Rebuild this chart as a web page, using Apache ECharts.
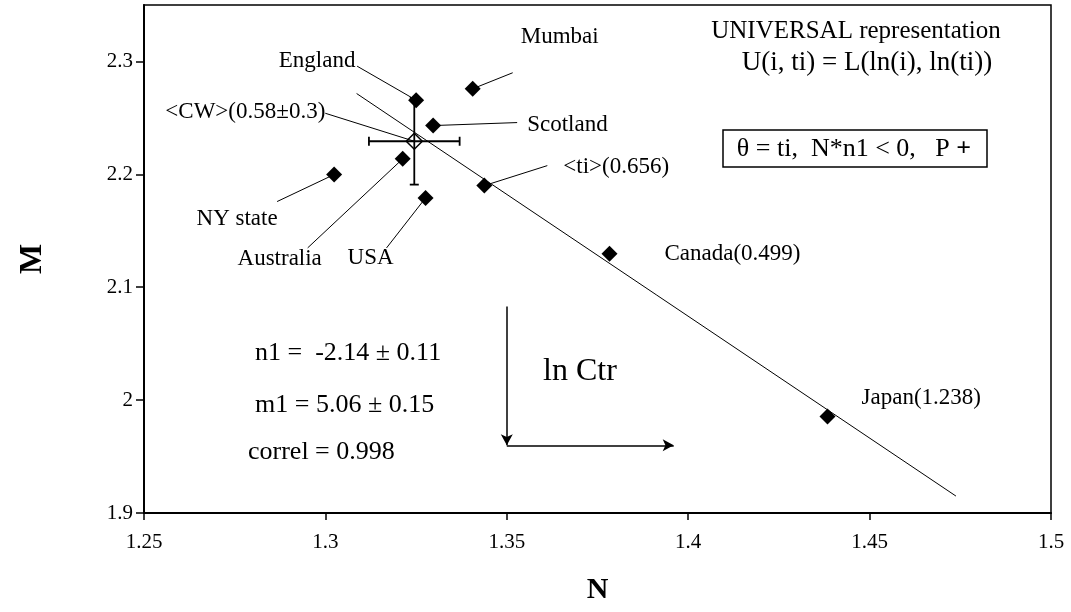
<!DOCTYPE html>
<html>
<head>
<meta charset="utf-8">
<script src="https://cdn.jsdelivr.net/npm/echarts@6/dist/echarts.min.js"></script>
<style>
  html, body { margin: 0; padding: 0; background: #fff; }
  #chart { width: 1071px; height: 612px; }
</style>
</head>
<body>
<div id="chart"></div>
<script>
// Countries / groups and their (N, M) values
const names = ['NY state', 'Australia', 'England', 'USA', 'Scotland', 'Mumbai', '<ti>(0.656)', 'Canada(0.499)', 'Japan(1.238)'];
const nValues = [1.3024, 1.3213, 1.3250, 1.3276, 1.3297, 1.3406, 1.3438, 1.3783, 1.4384];
const mValues = [2.1998, 2.2137, 2.2657, 2.1791, 2.2432, 2.2758, 2.1900, 2.1297, 1.9854];

// Average point with its error bars
const cwName = '<CW>(0.58±0.3)';
const cwN = [1.3245];
const cwM = [2.2293];
const cwErrN = [0.0125];
const cwErrM = [0.0384];

// Fitted straight line (end points)
const fitN = [1.3086, 1.4738];
const fitM = [2.2716, 1.9150];

// Axis ticks
const xTicks = [1.25, 1.3, 1.35, 1.4, 1.45, 1.5];
const yTicks = [1.9, 2.0, 2.1, 2.2, 2.3];

// "ln Ctr" direction arrows (data coordinates)
const arrowN = [1.35, 1.396];
const arrowM = [2.083, 1.96];

// Label placement: pixel offsets from the point for leader end and text
const labelLayout = {
  'NY state':      { lead: [-57, 27],  text: [-97, 44],  align: 'center' },
  'Australia':     { lead: [-95, 89],  text: [-123, 100], align: 'center' },
  'England':       { lead: [-59, -34], text: [-99, -39], align: 'center' },
  'USA':           { lead: [-39, 50],  text: [-55, 60],  align: 'center' },
  'Scotland':      { lead: [84, -3],   text: [94, -1],   align: 'left' },
  'Mumbai':        { lead: [40, -16],  text: [48, -52],  align: 'left' },
  '<ti>(0.656)':   { lead: [63, -20],  text: [79, -19],  align: 'left' },
  'Canada(0.499)': { lead: null,       text: [55, 0],    align: 'left' },
  'Japan(1.238)':  { lead: null,       text: [34, -19],  align: 'left' },
  [cwName]:        { lead: [-89, -28], text: [-89, -29], align: 'right' }
};

const SERIF = '"Liberation Serif", "Times New Roman", serif';

function labelItem(name, p) {
  const lay = labelLayout[name];
  const children = [];
  if (lay.lead) {
    children.push({
      type: 'line',
      shape: { x1: p[0], y1: p[1], x2: p[0] + lay.lead[0], y2: p[1] + lay.lead[1] },
      style: { stroke: '#000', lineWidth: 1 }
    });
  }
  children.push({
    type: 'text',
    x: p[0] + lay.text[0],
    y: p[1] + lay.text[1],
    style: { text: name, font: '23px ' + SERIF, fill: '#000', align: lay.align, verticalAlign: 'middle' }
  });
  return { type: 'group', children };
}

const points = nValues.map((n, i) => [n, mValues[i]]);
const cwData = cwN.map((n, i) => [n, cwM[i], cwErrN[i], cwErrM[i]]);

const chart = echarts.init(document.getElementById('chart'), null, { renderer: 'canvas' });

chart.setOption({
  animation: false,
  backgroundColor: '#fff',
  grid: {
    left: 144, right: 20, top: 5, bottom: 99,
    show: true, borderColor: '#000', borderWidth: 1.5, backgroundColor: 'transparent'
  },
  xAxis: {
    type: 'value', min: xTicks[0], max: xTicks[xTicks.length - 1], interval: 0.05,
    name: 'N', nameLocation: 'middle', nameGap: 62,
    nameTextStyle: { fontFamily: SERIF, fontWeight: 'bold', fontSize: 30, color: '#000' },
    axisLine: { show: true, lineStyle: { color: '#000', width: 2 } },
    axisTick: { show: true, inside: false, length: 7, lineStyle: { color: '#000', width: 1.5 }, customValues: xTicks },
    axisLabel: { fontFamily: SERIF, fontSize: 21, color: '#000', margin: 19, customValues: xTicks,
      formatter: v => String(+v.toFixed(2)) },
    splitLine: { show: false }
  },
  yAxis: {
    type: 'value', min: 1.9, max: 2.35, interval: 0.1,
    name: 'M', nameLocation: 'middle', nameGap: 95, nameRotate: 90,
    nameTextStyle: { fontFamily: SERIF, fontWeight: 'bold', fontSize: 32, color: '#000' },
    axisLine: { show: true, lineStyle: { color: '#000', width: 2 } },
    axisTick: { show: true, inside: false, length: 8, lineStyle: { color: '#000', width: 1.5 }, customValues: yTicks },
    axisLabel: { fontFamily: SERIF, fontSize: 21, color: '#000', margin: 11, customValues: yTicks,
      formatter: v => String(+v.toFixed(2)) },
    splitLine: { show: false }
  },
  series: [
    {
      // fitted line
      type: 'line',
      data: fitN.map((n, i) => [n, fitM[i]]),
      symbol: 'none',
      lineStyle: { color: '#000', width: 1 },
      z: 2, silent: true
    },
    {
      // leader lines and point names
      type: 'custom',
      data: points,
      renderItem: (params, api) => labelItem(names[params.dataIndex], api.coord([api.value(0), api.value(1)])),
      z: 3, silent: true
    },
    {
      // leader line and name of the average point
      type: 'custom',
      data: cwData,
      renderItem: (params, api) => labelItem(cwName, api.coord([api.value(0), api.value(1)])),
      z: 3, silent: true
    },
    {
      // error bars of the average point
      type: 'custom',
      data: cwData,
      renderItem: (params, api) => {
        const n = api.value(0), m = api.value(1), en = api.value(2), em = api.value(3);
        const l = api.coord([n - en, m]), r = api.coord([n + en, m]);
        const t = api.coord([n, m + em]), b = api.coord([n, m - em]);
        const cap = 4.5;
        const st = { stroke: '#000', lineWidth: 1.8 };
        return {
          type: 'group',
          children: [
            { type: 'line', shape: { x1: l[0], y1: l[1], x2: r[0], y2: r[1] }, style: st },
            { type: 'line', shape: { x1: l[0], y1: l[1] - cap, x2: l[0], y2: l[1] + cap }, style: st },
            { type: 'line', shape: { x1: r[0], y1: r[1] - cap, x2: r[0], y2: r[1] + cap }, style: st },
            { type: 'line', shape: { x1: t[0], y1: t[1], x2: b[0], y2: b[1] }, style: st },
            { type: 'line', shape: { x1: t[0] - cap, y1: t[1], x2: t[0] + cap, y2: t[1] }, style: st },
            { type: 'line', shape: { x1: b[0] - cap, y1: b[1], x2: b[0] + cap, y2: b[1] }, style: st }
          ]
        };
      },
      z: 4, silent: true
    },
    {
      // data points
      type: 'scatter',
      data: points,
      symbol: 'diamond',
      symbolSize: 16,
      itemStyle: { color: '#000', opacity: 1 },
      z: 5, silent: true
    },
    {
      // average point (open diamond)
      type: 'scatter',
      data: cwData.map(d => [d[0], d[1]]),
      symbol: 'diamond',
      symbolSize: 16,
      itemStyle: { color: 'rgba(0,0,0,0)', borderColor: '#000', borderWidth: 1.5, opacity: 1 },
      z: 6, silent: true
    },
    {
      // "ln Ctr" arrows
      type: 'line',
      data: [],
      markLine: {
        silent: true,
        symbol: ['none', 'arrow'],
        symbolSize: [9, 11],
        label: { show: false },
        lineStyle: { color: '#000', width: 1.5, type: 'solid' },
        data: [
          [{ coord: [arrowN[0], arrowM[0]] }, { coord: [arrowN[0], arrowM[1]] }],
          [{ coord: [arrowN[0], arrowM[1]] }, { coord: [arrowN[1], arrowM[1]] }]
        ]
      }
    }
  ],
  graphic: [
    { type: 'text', x: 856, y: 31,
      style: { text: 'UNIVERSAL representation', font: '25px ' + SERIF, fill: '#000', align: 'center', verticalAlign: 'middle' } },
    { type: 'text', x: 867, y: 63,
      style: { text: 'U(i, ti) = L(ln(i), ln(ti))', font: '27px ' + SERIF, fill: '#000', align: 'center', verticalAlign: 'middle' } },
    { type: 'rect', shape: { x: 723, y: 130, width: 264, height: 37 },
      style: { fill: 'none', stroke: '#000', lineWidth: 1.5 } },
    { type: 'text', x: 854, y: 149,
      style: { text: 'θ = ti,  N*n1 < 0,   P {b|+}', font: '26px ' + SERIF, fill: '#000', align: 'center', verticalAlign: 'middle',
        rich: { b: { font: 'bold 26px ' + SERIF, fill: '#000' } } } },
    { type: 'text', x: 255, y: 353,
      style: { text: 'n1 =  -2.14 ± 0.11', font: '26px ' + SERIF, fill: '#000', align: 'left', verticalAlign: 'middle' } },
    { type: 'text', x: 255, y: 405,
      style: { text: 'm1 = 5.06 ± 0.15', font: '26px ' + SERIF, fill: '#000', align: 'left', verticalAlign: 'middle' } },
    { type: 'text', x: 248, y: 452,
      style: { text: 'correl = 0.998', font: '26px ' + SERIF, fill: '#000', align: 'left', verticalAlign: 'middle' } },
    { type: 'text', x: 543, y: 372,
      style: { text: 'ln Ctr', font: '32px ' + SERIF, fill: '#000', align: 'left', verticalAlign: 'middle' } }
  ]
});
</script>
</body>
</html>
